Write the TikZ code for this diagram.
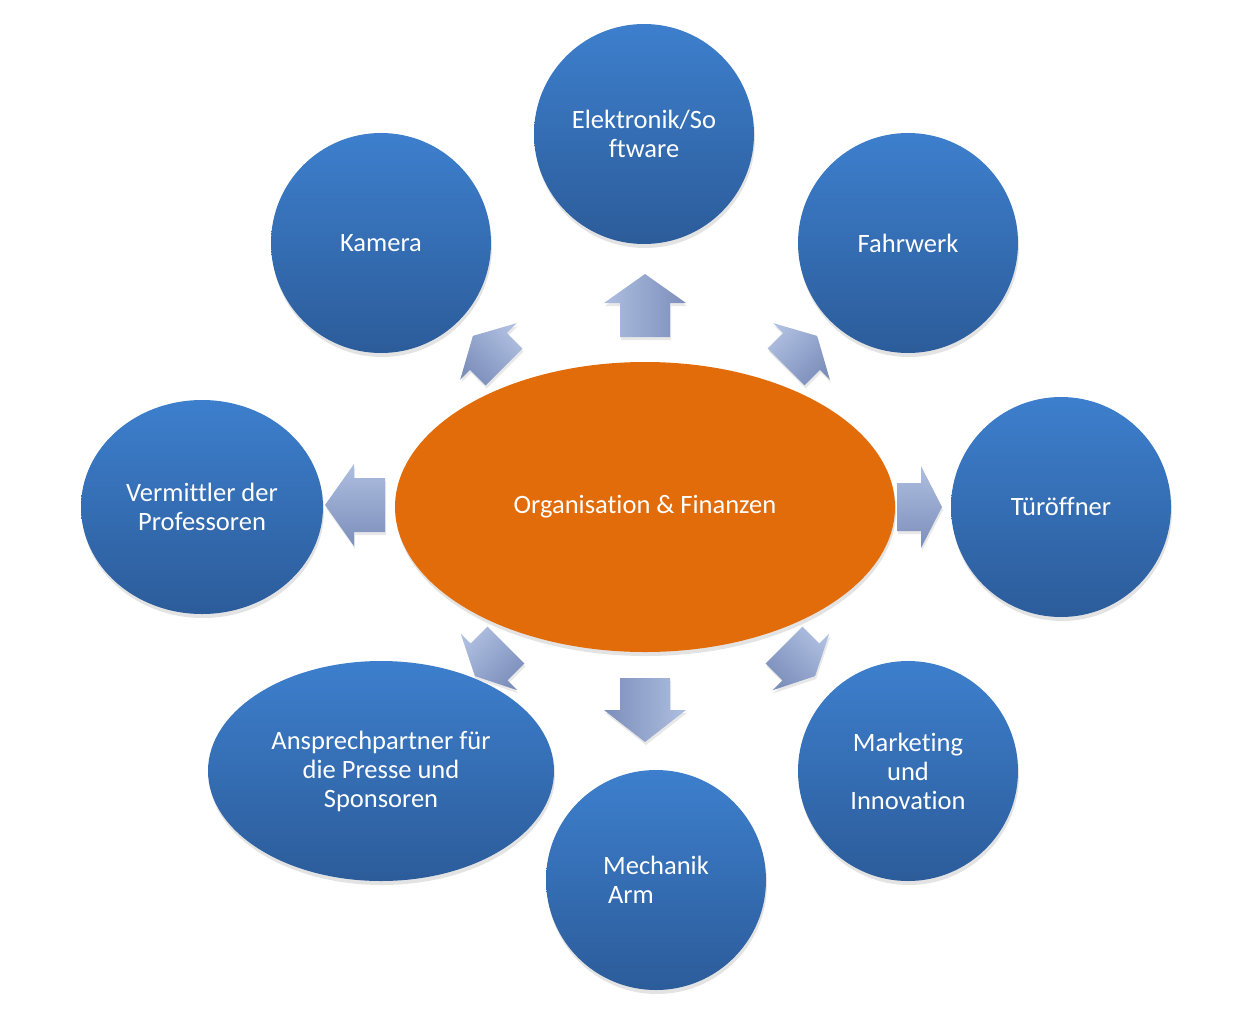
\documentclass[tikz,border=0pt]{standalone}
\usepackage{fontspec}
\setmainfont{Carlito}[Ligatures={NoCommon}]
\usetikzlibrary{shapes.geometric,shadows}
\definecolor{bTop}{RGB}{61,127,205}
\definecolor{bBot}{RGB}{44,92,154}
\definecolor{orgFill}{RGB}{227,108,10}
\definecolor{arLight}{RGB}{174,190,224}
\definecolor{arDark}{RGB}{124,143,187}
\newcommand\bubfont{\fontsize{26.5}{29}\selectfont}
% back x, back y, direction, length, head length, shaft half width, head half width, shading angle
\newcommand\radarrow[8]{%
  \shade[shift={(#1,#2)}, rotate=#3, top color=arLight, bottom color=arDark, shading angle=#8,
    drop shadow={shadow xshift=1pt, shadow yshift=-3pt, opacity=0.18}]
    (0,-#6) -- ({#4-#5},-#6) -- ({#4-#5},-#7) -- (#4,0) -- ({#4-#5},#7) -- ({#4-#5},#6) -- (0,#6) -- cycle;}
\tikzset{
  bub/.style={circle, inner sep=0pt, minimum size=220pt, top color=bTop, bottom color=bBot,
    text=white, align=center, font=\bubfont,
    drop shadow={shadow xshift=1pt, shadow yshift=-4pt, opacity=0.22}},
  bubell/.style={bub, ellipse},
}
\begin{document}
\begin{tikzpicture}[x=1pt,y=-1pt]
\useasboundingbox (0,0) rectangle (1253,1023);
% arrows
\radarrow{645}{337}{90}{63}{29}{25}{41}{90}
\radarrow{645}{678}{270}{64}{32}{25}{41}{-90}
\radarrow{385}{505}{180}{60}{29}{27}{41}{0}
\radarrow{897}{507}{0}{45}{21}{24}{41}{0}
\radarrow{504}{367}{135}{44}{22}{26}{40}{-45}
\radarrow{786}{367}{45}{44}{22}{26}{40}{45}
\radarrow{506}{645}{225}{44}{20}{26}{40}{45}
\radarrow{784}{645}{315}{44}{20}{26}{40}{-45}
% center
\node[ellipse, inner sep=0pt, minimum width=500pt, minimum height=290pt, fill=orgFill,
  text=white, font=\bubfont, drop shadow={shadow xshift=1pt, shadow yshift=-4pt, opacity=0.22}]
  (org) at (645,507) {Organisation \& Finanzen};
% satellites
\node[bub] (elek) at (644,134) {Elektronik/So\\ftware};
\node[bub] (kam) at (381,243) {Kamera};
\node[bub] (fahr) at (908,243) {Fahrwerk};
\node[bubell, minimum width=242pt, minimum height=214pt] (verm) at (202,507) {Vermittler der\\Professoren};
\node[bub] (tuer) at (1061,507) {Türöffner};
\node[bubell, minimum width=346pt, minimum height=220pt] (ansp) at (381,771) {Ansprechpartner für\\die Presse und\\Sponsoren};
\node[bub, align=left] (mech) at (656,880) {Mechanik\\\hspace*{5pt}Arm};
\node[bub] (mark) at (908,771) {Marketing\\und\\Innovation};
\end{tikzpicture}
\end{document}
